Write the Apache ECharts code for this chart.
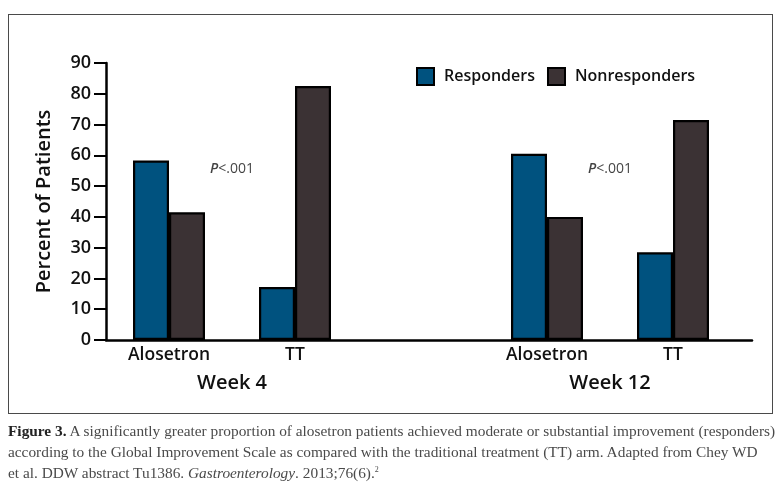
<!DOCTYPE html>
<html>
<head>
<meta charset="utf-8">
<script src="https://cdn.jsdelivr.net/npm/echarts@6/dist/echarts.min.js"></script>
<style>
  html, body { margin: 0; padding: 0; background: #fff; }
  #wrap { position: relative; width: 782px; height: 488px; overflow: hidden; }
  #box { position: absolute; left: 8px; top: 14px; width: 763px; height: 398px; border: 1.5px solid #4a4a4a; }
  #chart { position: absolute; left: 0; top: 0; width: 782px; height: 488px; }
  #caption { position: absolute; left: 8px; top: 420px; width: 780px; font-family: "Liberation Serif", serif; font-size: 15.35px; line-height: 21px; color: #4a4a4a; white-space: nowrap; }
  #caption b { color: #222; }
  #caption sup { font-size: 8px; vertical-align: 6px; line-height: 0; }
</style>
</head>
<body>
<div id="wrap">
  <div id="box"></div>
  <div id="chart"></div>
  <div id="caption">
    <b>Figure 3.</b> A significantly greater proportion of alosetron patients achieved moderate or substantial improvement (responders)<br>
    according to the Global Improvement Scale as compared with the traditional treatment (TT) arm. Adapted from Chey WD<br>
    et al. DDW abstract Tu1386. <i>Gastroenterology</i>. 2013;76(6).<sup>2</sup>
  </div>
</div>
<script>
// ---- data ----
var categories = ['Alosetron', 'TT', '', 'Alosetron', 'TT'];
var responders = [58.3, 17.2, '-', 60.5, 28.5];
var nonresponders = [41.5, 82.5, '-', 40, 71.5];
var groupSlots = ['', '', 'Week 4', '', '', '', '', '', 'Week 12', '', ''];
var pValuePoints = [[2, 55.5], [8, 55.5]];
var pValueText = 'P<.001';
var yTicks = { min: 0, max: 90, interval: 10 };
var seriesNames = ['Responders', 'Nonresponders'];

var FONT = '"Open Sans", sans-serif';
var BLUE = '#00527f';
var DARK = '#3b3234';

var chart = echarts.init(document.getElementById('chart'), null, { renderer: 'canvas' });
chart.setOption({
  animation: false,
  grid: [
    { left: 106, top: 63, width: 630, height: 277, containLabel: false },
    { left: 106, top: 63, width: 646, height: 277, containLabel: false }
  ],
  legend: {
    data: seriesNames,
    left: 416, top: 67, padding: 0,
    icon: 'rect', itemWidth: 17, itemHeight: 17, itemGap: 12,
    textStyle: { fontFamily: FONT, fontSize: 16, fontWeight: 600, color: '#111', padding: [0, 0, 0, 5] }
  },
  xAxis: [
    {
      type: 'category', gridIndex: 0, data: categories, position: 'bottom',
      axisLine: { show: false }, axisTick: { show: false },
      axisLabel: { interval: 0, margin: 6, fontFamily: FONT, fontSize: 17.5, fontWeight: 600, color: '#111' }
    },
    {
      type: 'category', gridIndex: 0, data: groupSlots, boundaryGap: false, position: 'bottom', offset: 0,
      axisLine: { show: false }, axisTick: { show: false },
      axisLabel: { interval: 0, margin: 33, fontFamily: FONT, fontSize: 20, fontWeight: 600, color: '#111' }
    },
    {
      type: 'category', gridIndex: 1, data: [''], position: 'bottom',
      axisLine: { show: true, lineStyle: { color: '#000', width: 2.5 } },
      axisTick: { show: false }, axisLabel: { show: false }
    }
  ],
  yAxis: [
    {
      type: 'value', gridIndex: 0, min: yTicks.min, max: yTicks.max, interval: yTicks.interval,
      name: 'Percent of Patients', nameLocation: 'middle', nameRotate: 90, nameGap: 52,
      nameTextStyle: { fontFamily: FONT, fontSize: 20, fontWeight: 600, color: '#111' },
      axisLine: { show: true, lineStyle: { color: '#000', width: 2.5 } },
      axisTick: { show: true, length: 12, lineStyle: { color: '#000', width: 2 } },
      axisLabel: { margin: 15, fontFamily: FONT, fontSize: 18, fontWeight: 600, color: '#111' },
      splitLine: { show: false }
    },
    { type: 'value', gridIndex: 1, show: false, min: 0, max: 90 }
  ],
  series: [
    {
      name: seriesNames[0], type: 'bar', xAxisIndex: 0, yAxisIndex: 0,
      data: responders, barWidth: 36, barGap: '0%',
      itemStyle: { color: BLUE, borderColor: '#000', borderWidth: 2.2 }
    },
    {
      name: seriesNames[1], type: 'bar', xAxisIndex: 0, yAxisIndex: 0,
      data: nonresponders, barWidth: 36, barGap: '0%',
      itemStyle: { color: DARK, borderColor: '#000', borderWidth: 2.2 }
    },
    {
      type: 'scatter', xAxisIndex: 1, yAxisIndex: 0, data: pValuePoints,
      symbolSize: 0, silent: true,
      label: {
        show: true, position: 'inside',
        formatter: function () { return '{i|P}{n|' + pValueText.slice(1) + '}'; },
        rich: {
          i: { fontFamily: FONT, fontSize: 14, fontStyle: 'italic', fontWeight: 600, color: '#111' },
          n: { fontFamily: FONT, fontSize: 14, fontWeight: 500, color: '#111' }
        }
      }
    }
  ]
});
</script>
</body>
</html>
